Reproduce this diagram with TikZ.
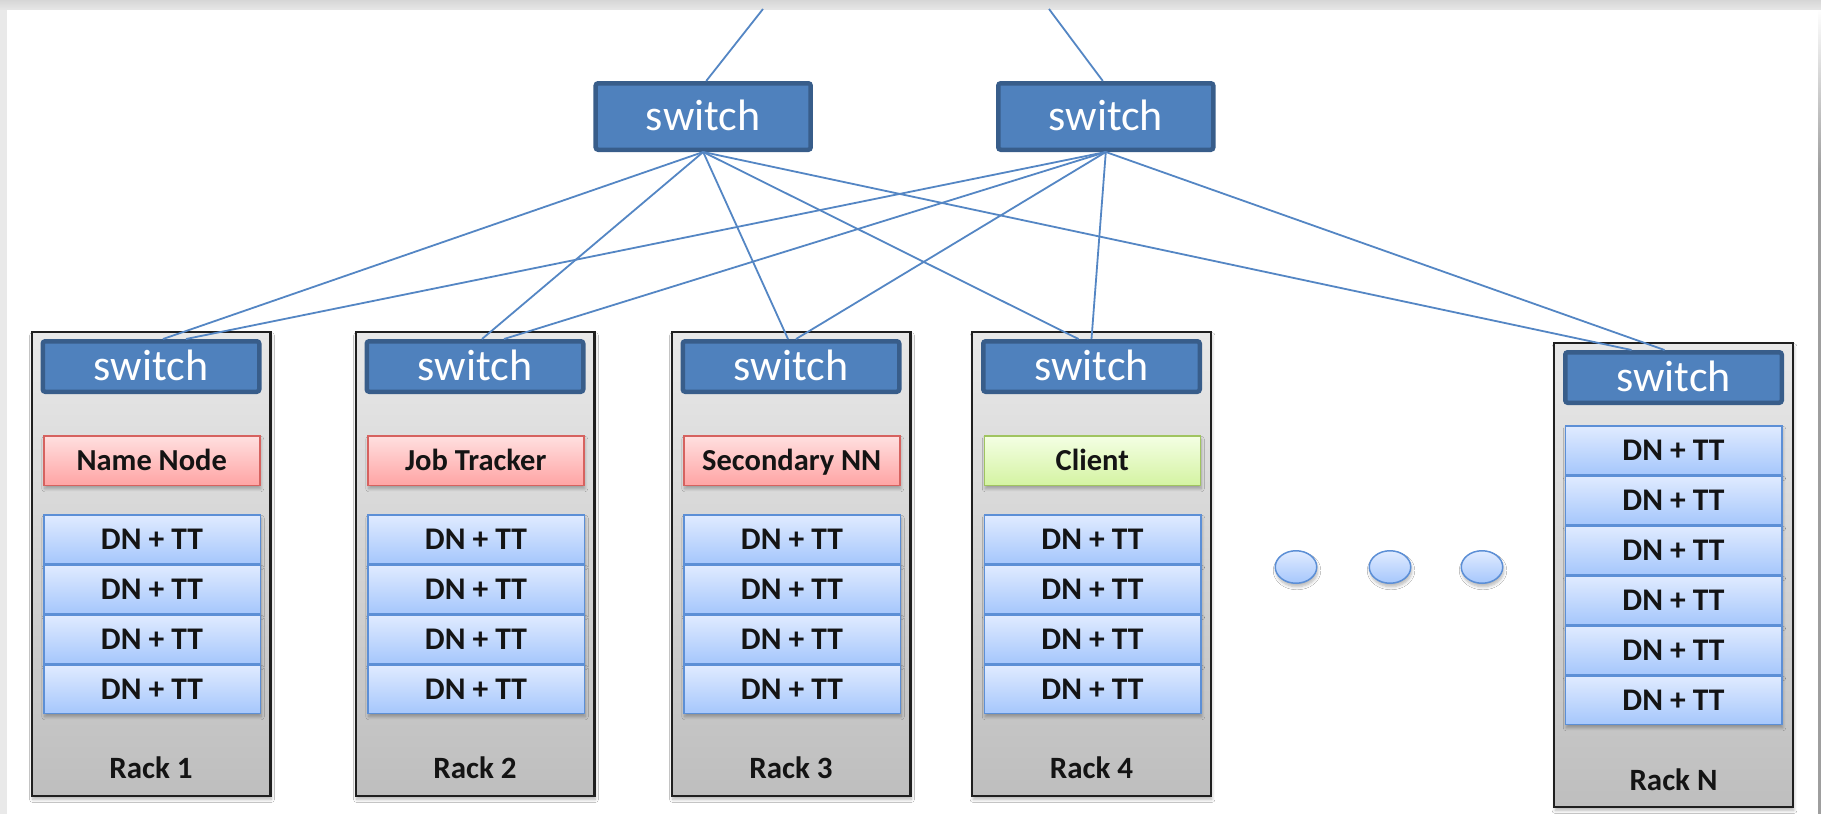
\documentclass[tikz,border=0pt]{standalone}
\usepackage{fontspec}
\setmainfont{Carlito}
\usetikzlibrary{shadows.blur,shapes.geometric,calc}
\definecolor{swfill}{RGB}{79,129,189}
\definecolor{swline}{RGB}{56,93,138}
\definecolor{wire}{RGB}{84,134,196}
\definecolor{racktop}{RGB}{232,232,232}
\definecolor{rackbot}{RGB}{190,190,190}
\definecolor{redtop}{RGB}{255,224,224}
\definecolor{redbot}{RGB}{255,164,164}
\definecolor{redline}{RGB}{214,98,95}
\definecolor{greentop}{RGB}{244,255,228}
\definecolor{greenbot}{RGB}{212,243,162}
\definecolor{greenline}{RGB}{160,196,96}
\definecolor{bluetop}{RGB}{224,235,255}
\definecolor{bluebot}{RGB}{166,199,252}
\definecolor{blueline}{RGB}{92,143,214}
\definecolor{framegray}{RGB}{233,233,233}
\definecolor{txt}{RGB}{20,20,20}
\tikzset{
  softshadow/.style={blur shadow={shadow xshift=1pt, shadow yshift=-3.5pt, shadow blur radius=3pt, shadow opacity=28, shadow blur steps=6}},
  rackbox/.style={draw=black!88, line width=2.2pt, top color=racktop, bottom color=rackbot, minimum width=238.8pt, minimum height=463.8pt, inner sep=0pt, softshadow},
  rsw/.style={fill=swfill, draw=swline, line width=4.5pt, rounded corners=2.5pt, minimum width=216.5pt, minimum height=50.5pt, inner sep=0pt, text=white, font=\fontsize{44}{44}\selectfont, text height=28pt, text depth=0pt},
  topsw/.style={rsw, minimum width=215pt, minimum height=66.5pt},
  rolebox/.style={line width=1.5pt, minimum width=216pt, minimum height=49.5pt, inner sep=0pt, text=txt, font=\bfseries\fontsize{30.5}{30.5}\selectfont, text height=19.6pt, text depth=0pt, softshadow},
  redrole/.style={rolebox, draw=redline, top color=redtop, bottom color=redbot},
  greenrole/.style={rolebox, draw=greenline, top color=greentop, bottom color=greenbot},
  dnbox/.style={draw=blueline, line width=1.5pt, top color=bluetop, bottom color=bluebot, minimum width=216.5pt, minimum height=48.5pt, inner sep=0pt, text=txt, font=\bfseries\fontsize{31.5}{31.5}\selectfont, text height=20.3pt, text depth=0pt},
  racklabel/.style={text=txt, font=\bfseries\fontsize{31}{31}\selectfont, inner sep=0pt, text height=20pt, text depth=0pt},
  dotell/.style={ellipse, draw=blueline, line width=1.5pt, top color=bluetop, bottom color=bluebot, minimum width=41.5pt, minimum height=32.5pt, inner sep=0pt, softshadow},
  wire/.style={draw=wire, line width=1.8pt}
}
\begin{document}
\begin{tikzpicture}[x=1pt,y=-1pt]
\useasboundingbox (0,0) rectangle (1821,814);
\fill[white] (0,0) rectangle (1821,814);
% frame
\fill[framegray] (0,0) rectangle (7,814);
\shade[top color=white, bottom color=black!38] (1818,9) rectangle (1821,170);
\fill[black!38] (1818,170) rectangle (1821,814);
\shade[top color=black!16, bottom color=black!10] (0,0) rectangle (1821,9);

% top switches
\node[topsw] (swA) at (703.2,116.5) {switch};
\node[topsw] (swB) at (1105.8,116.5) {switch};
\coordinate (upA) at (763,9);
\coordinate (upB) at (1049,9);

% racks 1-4
\foreach \i/\L in {1/30.5, 2/354.5, 3/670.5, 4/971} {
  \node[rackbox] (rack\i) at (\L+120.5,564) {};
  \node[rsw] (sw\i) at (\L+120.5,366.5) {switch};
  \foreach \j/\y in {1/539,2/589,3/639,4/689}
    \node[dnbox, softshadow] (dn\i\j) at (\L+121.5,\y) {};
  \foreach \j/\y in {1/539,2/589,3/639,4/689}
    \node[dnbox] (dnt\i\j) at (\L+121.5,\y) {DN + TT};
  \node[racklabel] (lab\i) at (\L+120.5,768) {Rack \i};
}
\node[redrole] (nn) at (151.75,460.5) {Name Node};
\node[redrole] (jt) at (475.75,460.5) {Job Tracker};
\node[redrole] (snn) at (791.75,460.5) {Secondary NN};
\node[greenrole] (cl) at (1092.25,460.5) {Client};

% rack N
\node[rackbox] (rackN) at (1673.5,575) {};
\node[rsw] (swN) at (1673.5,377.5) {switch};
\foreach \j/\y in {1/450,2/500,3/550,4/600,5/650,6/700}
  \node[dnbox, softshadow] (dnN\j) at (1673.5,\y) {};
\foreach \j/\y in {1/450,2/500,3/550,4/600,5/650,6/700}
  \node[dnbox] (dntN\j) at (1673.5,\y) {DN + TT};
\node[racklabel] (labN) at (1673.5,780) {Rack N};

% dots
\node[dotell] (d1) at (1296,567) {};
\node[dotell] (d2) at (1390,567) {};
\node[dotell] (d3) at (1482,567) {};

% connectors
\draw[wire] ([xshift=3]swA.north) -- (upA);
\draw[wire] ([xshift=-3]swB.north) -- (upB);
\foreach \r/\da/\db in {1/12/35, 2/7/29, 3/-3/5, 4/-13/0, N/-42/-9} {
  \draw[wire] (swA.south) -- ([xshift=\da]sw\r.north);
  \draw[wire] (swB.south) -- ([xshift=\db]sw\r.north);
}
\end{tikzpicture}
\end{document}
